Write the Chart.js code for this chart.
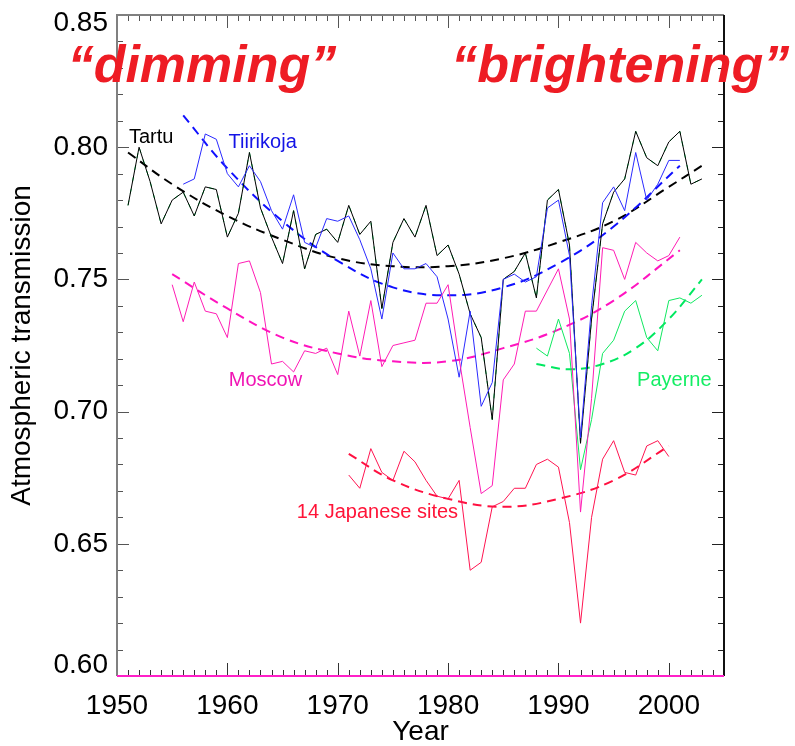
<!DOCTYPE html>
<html>
<head>
<meta charset="utf-8">
<script src="https://cdn.jsdelivr.net/npm/chart.js@4.4.1/dist/chart.umd.min.js"></script>
<style>
  html, body { margin: 0; padding: 0; background: #fff; }
  #wrap { width: 795px; height: 746px; }
</style>
</head>
<body>
<div id="wrap"><canvas id="chart" width="795" height="746"></canvas></div>
<script>
// yearly series (start year + values)
const tartuStart = 1951;
const tartu = [0.778, 0.800, 0.787, 0.771, 0.780, 0.783, 0.774, 0.785, 0.784, 0.766,
  0.775, 0.798, 0.777, 0.766, 0.756, 0.776, 0.754, 0.767, 0.769, 0.764,
  0.778, 0.767, 0.772, 0.739, 0.764, 0.773, 0.766, 0.778, 0.759, 0.763,
  0.752, 0.737, 0.728, 0.697, 0.750, 0.753, 0.760, 0.743, 0.780, 0.784,
  0.763, 0.688, 0.735, 0.771, 0.783, 0.788, 0.806, 0.796, 0.793, 0.802,
  0.806, 0.786, 0.788];

const tiirikojaStart = 1956;
const tiirikoja = [0.786, 0.788, 0.805, 0.803, 0.790, 0.785, 0.793, 0.787, 0.776, 0.769,
  0.782, 0.764, 0.762, 0.773, 0.772, 0.774, 0.765, 0.754, 0.735, 0.760,
  0.754, 0.754, 0.756, 0.751, 0.735, 0.713, 0.738, 0.702, 0.711, 0.750,
  0.752, 0.749, 0.751, 0.777, 0.780, 0.759, 0.690, 0.740, 0.779, 0.785,
  0.776, 0.798, 0.780, 0.786, 0.795, 0.795];

const moscowStart = 1955;
const moscow = [0.748, 0.734, 0.749, 0.738, 0.737, 0.728, 0.756, 0.757, 0.745, 0.718,
  0.719, 0.715, 0.723, 0.722, 0.724, 0.714, 0.738, 0.721, 0.742, 0.717,
  0.725, 0.726, 0.727, 0.741, 0.741, 0.748, 0.720, 0.694, 0.669, 0.672,
  0.712, 0.718, 0.738, 0.738, 0.746, 0.754, 0.735, 0.662, 0.705, 0.762,
  0.761, 0.750, 0.764, 0.760, 0.757, 0.759, 0.766];

const payerneStart = 1988;
const payerne = [0.724, 0.721, 0.735, 0.722, 0.678, 0.697, 0.722, 0.727, 0.738, 0.742,
  0.728, 0.723, 0.742, 0.743, 0.741, 0.744];

const japanStart = 1971;
const japan = [0.676, 0.671, 0.686, 0.677, 0.674, 0.685, 0.681, 0.674, 0.668, 0.667,
  0.674, 0.640, 0.643, 0.664, 0.666, 0.671, 0.671, 0.680, 0.682, 0.679,
  0.658, 0.620, 0.660, 0.682, 0.689, 0.677, 0.676, 0.687, 0.689, 0.683];

// fitted trend curves
const tartuFitYears = [1951, 1955, 1960, 1965, 1970, 1975, 1980, 1985, 1990, 1995, 2000, 2003];
const tartuFit = [0.798, 0.786, 0.774, 0.765, 0.758, 0.755, 0.755, 0.758, 0.764, 0.772, 0.785, 0.793];
const tiirikojaFitYears = [1956, 1960, 1965, 1970, 1975, 1980, 1985, 1990, 1995, 2001];
const tiirikojaFit = [0.812, 0.792, 0.772, 0.757, 0.747, 0.744, 0.747, 0.756, 0.770, 0.793];
const moscowFitYears = [1955, 1960, 1965, 1970, 1975, 1980, 1985, 1990, 1995, 2001];
const moscowFit = [0.752, 0.739, 0.728, 0.722, 0.719, 0.719, 0.724, 0.731, 0.742, 0.761];
const payerneFitYears = [1988, 1991, 1994, 1997, 2000, 2003];
const payerneFit = [0.718, 0.716, 0.718, 0.724, 0.735, 0.750];
const japanFitYears = [1971, 1975, 1980, 1985, 1990, 1995, 2000];
const japanFit = [0.684, 0.674, 0.667, 0.664, 0.667, 0.674, 0.687];

const yTicks = [0.60, 0.65, 0.70, 0.75, 0.80, 0.85];
const xTicks = [1950, 1960, 1970, 1980, 1990, 2000];

const FONT = '"Liberation Sans", Arial, Helvetica, sans-serif';

function series(start, vals) {
  return vals.map((v, i) => ({ x: start + i, y: v }));
}
function pairs(xs, ys) {
  return xs.map((x, i) => ({ x: x, y: ys[i] }));
}

function rawLine(data, color, dash) {
  return {
    data: data, borderColor: color, borderWidth: 1, borderDash: dash || [],
    pointRadius: 0, tension: 0, fill: false
  };
}
function fitLine(data, color) {
  return {
    data: data, borderColor: color, borderWidth: 2, borderDash: [9, 6],
    pointRadius: 0, tension: 0.4, fill: false
  };
}

// labels placed in data units
const notes = [
  { text: '\u201cdimming\u201d', x: 1957.7, y: 0.8247, font: 'italic bold 52px ' + FONT, color: '#ee1c24' },
  { text: '\u201cbrightening\u201d', x: 1995.6, y: 0.8247, font: 'italic bold 52px ' + FONT, color: '#ee1c24' },
  { text: 'Tartu', x: 1953.1, y: 0.8016, font: '20px ' + FONT, color: '#000000' },
  { text: 'Tiirikoja', x: 1963.2, y: 0.7997, font: '20px ' + FONT, color: '#1414e6' },
  { text: 'Moscow', x: 1963.45, y: 0.7097, font: '20px ' + FONT, color: '#f014b4' },
  { text: 'Payerne', x: 2000.5, y: 0.7097, font: '20px ' + FONT, color: '#14ee64' },
  { text: '14 Japanese sites', x: 1973.6, y: 0.6598, font: '20px ' + FONT, color: '#ff1438' }
];

const framePlugin = {
  id: 'frame',
  afterDatasetsDraw(chart) {
    const ctx = chart.ctx;
    const a = chart.chartArea;
    const xs = chart.scales.x, ys = chart.scales.y;
    ctx.save();
    ctx.lineWidth = 1;
    // minor + major ticks, pointing into the plot
    for (let yr = 1950; yr <= 2005; yr++) {
      const px = Math.round(xs.getPixelForValue(yr)) + 0.5;
      const len = yr % 10 === 0 ? 13 : 6;
      ctx.strokeStyle = '#333';
      ctx.beginPath(); ctx.moveTo(px, a.bottom); ctx.lineTo(px, a.bottom - len); ctx.stroke();
      ctx.strokeStyle = '#555';
      ctx.beginPath(); ctx.moveTo(px, a.top); ctx.lineTo(px, a.top + len); ctx.stroke();
    }
    for (let k = 60; k <= 85; k++) {
      const py = Math.round(ys.getPixelForValue(k / 100)) + 0.5;
      const len = k % 5 === 0 ? 12 : 6;
      ctx.strokeStyle = '#555';
      ctx.beginPath(); ctx.moveTo(a.left, py); ctx.lineTo(a.left + len, py); ctx.stroke();
      ctx.strokeStyle = '#222';
      ctx.beginPath(); ctx.moveTo(a.right, py); ctx.lineTo(a.right - len, py); ctx.stroke();
    }
    // frame
    ctx.lineWidth = 2;
    ctx.strokeStyle = '#808080';
    ctx.beginPath(); ctx.moveTo(a.left, a.bottom); ctx.lineTo(a.left, a.top); ctx.lineTo(a.right, a.top); ctx.stroke();
    ctx.strokeStyle = '#111';
    ctx.beginPath(); ctx.moveTo(a.right, a.top); ctx.lineTo(a.right, a.bottom); ctx.stroke();
    ctx.strokeStyle = '#ff20c8';
    ctx.beginPath(); ctx.moveTo(a.left, a.bottom); ctx.lineTo(a.right, a.bottom); ctx.stroke();

    // y tick labels, kept inside the axis range like the original
    ctx.font = '28px ' + FONT;
    ctx.fillStyle = '#000';
    ctx.textAlign = 'right';
    ctx.textBaseline = 'middle';
    yTicks.forEach(v => {
      let py = ys.getPixelForValue(v);
      py = Math.min(Math.max(py, a.top + 8), a.bottom - 11);
      ctx.fillText(v.toFixed(2), a.left - 9, py);
    });
    ctx.restore();
  },
  afterDraw(chart) {
    const ctx = chart.ctx;
    const xs = chart.scales.x, ys = chart.scales.y;
    ctx.save();
    ctx.textAlign = 'center';
    ctx.textBaseline = 'alphabetic';
    notes.forEach(n => {
      ctx.font = n.font;
      ctx.fillStyle = n.color;
      ctx.fillText(n.text, xs.getPixelForValue(n.x), ys.getPixelForValue(n.y));
    });
    ctx.restore();
  }
};

const ctx = document.getElementById('chart').getContext('2d');
new Chart(ctx, {
  type: 'line',
  data: {
    datasets: [
      rawLine(series(moscowStart, moscow), '#ff1cb4'),
      rawLine(series(japanStart, japan), '#ff1450'),
      rawLine(series(payerneStart, payerne), '#10e860'),
      rawLine(series(tiirikojaStart, tiirikoja), '#2a2aff'),
      rawLine(series(tartuStart, tartu), '#000000'),
      rawLine(series(tartuStart, tartu), '#00dd55', [5, 7]),
      fitLine(pairs(moscowFitYears, moscowFit), '#ff14c0'),
      fitLine(pairs(japanFitYears, japanFit), '#ff1040'),
      fitLine(pairs(payerneFitYears, payerneFit), '#00e860'),
      fitLine(pairs(tiirikojaFitYears, tiirikojaFit), '#1010ff'),
      fitLine(pairs(tartuFitYears, tartuFit), '#000000')
    ]
  },
  options: {
    responsive: false,
    animation: false,
    devicePixelRatio: 1,
    layout: { padding: { top: 15, right: 71, left: 0, bottom: 0 } },
    plugins: { legend: { display: false }, tooltip: { enabled: false } },
    scales: {
      x: {
        type: 'linear', min: 1950, max: 2005,
        afterBuildTicks: s => { s.ticks = xTicks.map(v => ({ value: v })); },
        afterFit: s => { s.height = 70; s.paddingLeft = 0; s.paddingRight = 0; },
        grid: { display: false }, border: { display: false },
        ticks: { color: '#000', padding: 5, maxRotation: 0, autoSkip: false,
          font: { family: FONT, size: 28 }, callback: v => String(v) },
        title: { display: true, text: 'Year', color: '#000', padding: { top: 0, bottom: 0 },
          font: { family: FONT, size: 28, lineHeight: 1.0 } }
      },
      y: {
        type: 'linear', min: 0.60, max: 0.85,
        afterBuildTicks: s => { s.ticks = yTicks.map(v => ({ value: v })); },
        afterFit: s => { s.width = 117; s.paddingTop = 0; s.paddingBottom = 0; },
        grid: { display: false }, border: { display: false },
        ticks: { display: false },
        title: { display: true, text: 'Atmospheric transmission', color: '#000', padding: { top: 5, bottom: 0 },
          font: { family: FONT, size: 28 } }
      }
    }
  },
  plugins: [framePlugin]
});
</script>
</body>
</html>
